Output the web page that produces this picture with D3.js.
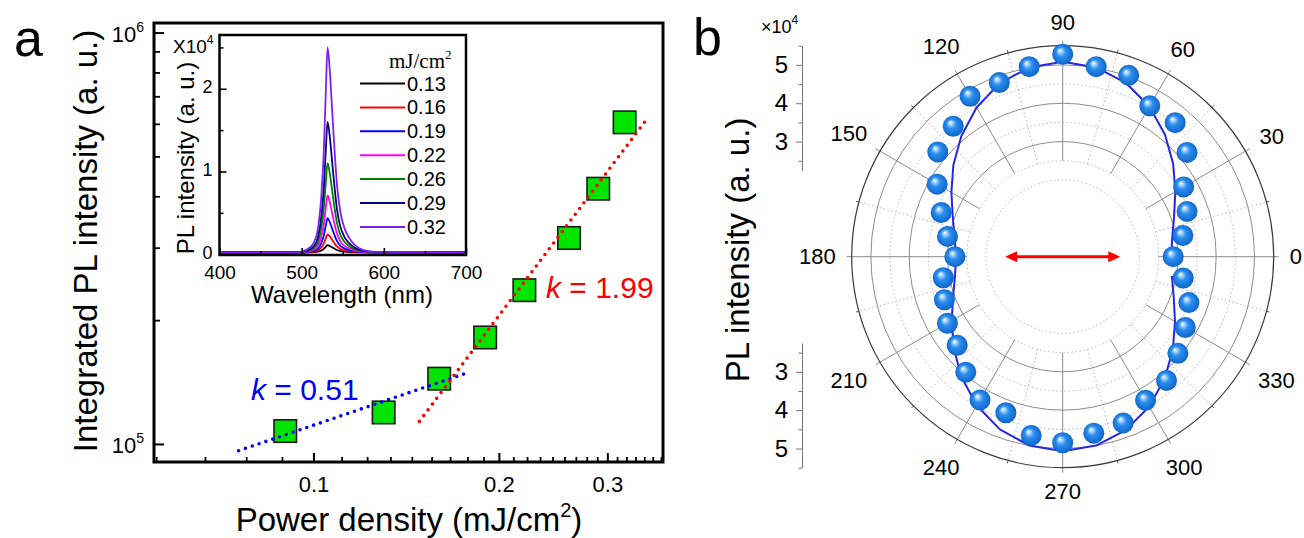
<!DOCTYPE html>
<html>
<head>
<meta charset="utf-8">
<script src="https://cdn.jsdelivr.net/npm/d3@7"></script>
<style>
  html, body { margin: 0; padding: 0; background: #fff; }
  svg { display: block; font-family: "Liberation Sans", Arial, Helvetica, sans-serif; }
</style>
</head>
<body>
<svg id="chart" width="1304" height="538"></svg>
<script>
// ---------- Panel a: integrated PL versus excitation power density ----------
const powerDensity = [0.09, 0.13, 0.16, 0.19, 0.22, 0.26, 0.29, 0.32];      // mJ/cm^2
const integratedPL = [1.075e5, 1.193e5, 1.441e5, 1.815e5, 2.365e5, 3.167e5, 4.173e5, 6.05e5];

// power-law fits  I ~ P^k : slope, x extent, and one point the line passes through
const fitSlopes  = [0.51, 1.99];
const fitColors  = ["#0000ff", "#ff0000"];
const fitXRanges = [[0.0756, 0.1774], [0.1486, 0.3498]];
const fitAnchors = [[0.1158, 1.197e5], [0.228, 2.66e5]];

const xMajorTicks = [0.1, 0.2, 0.3];
const xTickLabels = ["0.1", "0.2", "0.3"];
const yMajorTicks = [1e5, 1e6];
const yTickExponents = ["5", "6"];

// ---------- Inset: PL spectra at each power density ----------
const wavelengthNm = [400, 490, 500, 510, 515, 520, 524, 527, 529.5, 531.5, 534, 537, 540, 543, 547, 552, 558, 565, 575, 590, 700];
const pl013 = [0.02, 0.02, 0.020, 0.022, 0.025, 0.031, 0.045, 0.065, 0.092, 0.110, 0.101, 0.083, 0.065, 0.050, 0.038, 0.031, 0.026, 0.023, 0.021, 0.020, 0.02];
const pl016 = [0.02, 0.02, 0.021, 0.026, 0.031, 0.046, 0.082, 0.130, 0.196, 0.240, 0.218, 0.174, 0.130, 0.093, 0.064, 0.046, 0.035, 0.028, 0.023, 0.021, 0.02];
const pl019 = [0.02, 0.02, 0.022, 0.030, 0.041, 0.070, 0.136, 0.228, 0.352, 0.435, 0.394, 0.311, 0.228, 0.157, 0.103, 0.070, 0.049, 0.035, 0.025, 0.021, 0.02];
const pl022 = [0.02, 0.02, 0.023, 0.037, 0.055, 0.103, 0.213, 0.365, 0.572, 0.710, 0.641, 0.503, 0.365, 0.248, 0.158, 0.103, 0.068, 0.044, 0.028, 0.022, 0.02];
const pl026 = [0.02, 0.02, 0.025, 0.047, 0.074, 0.150, 0.322, 0.560, 0.884, 1.100, 0.992, 0.776, 0.560, 0.376, 0.236, 0.150, 0.096, 0.058, 0.033, 0.023, 0.02];
const pl029 = [0.02, 0.02, 0.028, 0.060, 0.099, 0.210, 0.462, 0.810, 1.284, 1.600, 1.442, 1.126, 0.810, 0.541, 0.336, 0.210, 0.131, 0.075, 0.039, 0.025, 0.02];
const pl032 = [0.02, 0.02, 0.032, 0.082, 0.144, 0.318, 0.714, 1.260, 2.004, 2.500, 2.252, 1.756, 1.260, 0.838, 0.516, 0.318, 0.194, 0.107, 0.050, 0.027, 0.02];
const spectraLabels = ["0.13", "0.16", "0.19", "0.22", "0.26", "0.29", "0.32"];
const spectraColors = ["#000000", "#ff0000", "#0000ff", "#ff00ff", "#008000", "#000080", "#8020f0"];
const insetXTicks = [400, 500, 600, 700];
const insetYTicks = [0, 1, 2];

// ---------- Panel b: polarization-resolved PL (x10^4) ----------
const polarAngleDeg = [0, 10, 20, 30, 40, 50, 60, 70, 80, 90, 100, 110, 120, 130, 140, 150, 160, 170,
                       180, 190, 200, 210, 220, 230, 240, 250, 260, 270, 280, 290, 300, 310, 320, 330, 340, 350];
const polarPL = [2.88, 3.18, 3.45, 3.64, 4.23, 4.56, 4.54, 5.03, 5.03, 5.28, 5.03, 4.83, 4.83, 4.44, 4.25, 3.78, 3.37, 3.05,
                 2.81, 3.16, 3.28, 3.47, 3.59, 3.93, 4.31, 4.33, 4.73, 4.85, 4.67, 4.61, 4.32, 4.21, 3.92, 3.69, 3.50, 3.19];
const polarFit = [2.83, 2.90, 3.09, 3.39, 3.76, 4.15, 4.52, 4.82, 5.01, 5.08, 5.01, 4.81, 4.49, 4.11, 3.72, 3.35, 3.05, 2.86,
                  2.78, 2.85, 3.04, 3.34, 3.71, 4.10, 4.48, 4.79, 5.00, 5.07, 5.00, 4.81, 4.51, 4.14, 3.75, 3.38, 3.08, 2.89];
const angleTickLabels = ["0", "30", "60", "90", "120", "150", "180", "210", "240", "270", "300", "330"];
const radialTicks = [3, 4, 5];
const radialMinorTicks = [2.5, 3.5, 4.5, 5.5];
const polarArrowHalfLength = 1.5;   // polarization direction marker, radial units

const svg = d3.select("#chart");
const defs = svg.append("defs");

// =====================================================================
// Panel a
// =====================================================================
const A = { left: 154, right: 663, top: 23, bottom: 462 };
const xDomain = [0.0551, 0.3694];
const xA = d3.scaleLog().domain(xDomain).range([A.left, A.right]);
const yA = d3.scaleLog().domain([9.04e4, 1.055e6]).range([A.bottom, A.top]);

const gA = svg.append("g");

// minor ticks: eight evenly spaced values between successive 0.1 steps
const xMinor = [];
[0, 0.1, 0.2, 0.3].forEach(b => {
  for (let i = 1; i <= 8; i++) {
    const v = b + i * 0.1 / 9;
    if (v > xDomain[0] && v < xDomain[1]) xMinor.push(v);
  }
});
const yMinor = d3.range(2, 10).map(m => m * 1e5);

function styleAxis(g, color, width) {
  g.select(".domain").remove();
  g.selectAll(".tick line").attr("stroke", color).attr("stroke-width", width);
}

// bottom axis
gA.append("g").attr("transform", `translate(0,${A.bottom})`)
  .call(d3.axisBottom(xA).tickValues(xMinor).tickSize(-5).tickFormat(""))
  .call(g => styleAxis(g, "#000", 1.8));
gA.append("g").attr("transform", `translate(0,${A.bottom})`)
  .call(d3.axisBottom(xA).tickValues(xMajorTicks).tickSize(-9).tickPadding(14)
        .tickFormat((d, i) => xTickLabels[i]))
  .call(g => styleAxis(g, "#000", 2))
  .call(g => g.selectAll("text").attr("fill", "#000").attr("font-size", 22)
        .attr("font-family", "Liberation Sans, Arial, sans-serif"));

// left axis
gA.append("g").attr("transform", `translate(${A.left},0)`)
  .call(d3.axisLeft(yA).tickValues(yMinor).tickSize(-6).tickFormat(""))
  .call(g => styleAxis(g, "#000", 1.8));
gA.append("g").attr("transform", `translate(${A.left},0)`)
  .call(d3.axisLeft(yA).tickValues(yMajorTicks).tickSize(-10).tickFormat(""))
  .call(g => styleAxis(g, "#000", 2));

yMajorTicks.forEach((v, i) => {
  const t = gA.append("text").attr("x", 144).attr("y", yA(v) + 9)
    .attr("text-anchor", "end").attr("font-size", 22).attr("fill", "#000");
  t.append("tspan").text("10");
  t.append("tspan").attr("font-size", 14).attr("dy", -10).text(yTickExponents[i]);
});

// frame
gA.append("rect").attr("x", A.left).attr("y", A.top)
  .attr("width", A.right - A.left).attr("height", A.bottom - A.top)
  .attr("fill", "none").attr("stroke", "#000").attr("stroke-width", 3);

// data squares
const sq = 22.5;
gA.append("g").selectAll("rect").data(powerDensity).join("rect")
  .attr("x", d => xA(d) - sq / 2)
  .attr("y", (d, i) => yA(integratedPL[i]) - sq / 2)
  .attr("width", sq).attr("height", sq)
  .attr("fill", "#00e400").attr("stroke", "#1a1a1a").attr("stroke-width", 1.6);

// dotted power-law fits
const fitLine = d3.line().x(d => xA(d[0])).y(d => yA(d[1]));
fitSlopes.forEach((k, i) => {
  const [x0, y0] = fitAnchors[i];
  const pts = fitXRanges[i].map(x => [x, y0 * Math.pow(x / x0, k)]);
  gA.append("path").attr("d", fitLine(pts))
    .attr("fill", "none").attr("stroke", fitColors[i]).attr("stroke-width", 3.6)
    .attr("stroke-linecap", "round").attr("stroke-dasharray", "0 7.2");
});

function kLabel(x, y, k, color) {
  const t = gA.append("text").attr("x", x).attr("y", y).attr("font-size", 30).attr("fill", color);
  t.append("tspan").attr("font-style", "italic").text("k");
  t.append("tspan").text(" = " + k.toFixed(2));
}
kLabel(251, 400, fitSlopes[0], fitColors[0]);
kLabel(546, 298, fitSlopes[1], fitColors[1]);

// axis titles
{
  const t = gA.append("text").attr("x", 409).attr("y", 531).attr("text-anchor", "middle")
    .attr("font-size", 33).attr("fill", "#000");
  t.append("tspan").text("Power density (mJ/cm");
  t.append("tspan").attr("font-size", 20).attr("dy", -14).text("2");
  t.append("tspan").attr("dy", 14).text(")");
}
gA.append("text").attr("transform", "translate(97,241) rotate(-90)")
  .attr("text-anchor", "middle").attr("font-size", 33).attr("fill", "#000")
  .text("Integrated PL intensity (a. u.)");

svg.append("text").attr("x", 14).attr("y", 56).attr("font-size", 52).attr("fill", "#000").text("a");

// =====================================================================
// Inset
// =====================================================================
const I = { left: 219.5, right: 466, top: 35, bottom: 255 };
const xI = d3.scaleLinear().domain([400, 700]).range([I.left, I.right]);
const yI = d3.scaleLinear().domain([-0.01, 2.65]).range([I.bottom, I.top]);
const gI = svg.append("g");

gI.append("rect").attr("x", I.left).attr("y", I.top)
  .attr("width", I.right - I.left).attr("height", I.bottom - I.top).attr("fill", "#fff");

defs.append("clipPath").attr("id", "insetClip").append("rect")
  .attr("x", I.left).attr("y", I.top).attr("width", I.right - I.left).attr("height", I.bottom - I.top);

const spectra = [pl013, pl016, pl019, pl022, pl026, pl029, pl032];
const specLine = d3.line().x(d => xI(d[0])).y(d => yI(d[1])).curve(d3.curveMonotoneX);
gI.append("g").attr("clip-path", "url(#insetClip)").selectAll("path")
  .data(spectra.map(s => wavelengthNm.map((w, j) => [w, s[j]])))
  .join("path")
  .attr("d", specLine).attr("fill", "none")
  .attr("stroke", (d, i) => spectraColors[i]).attr("stroke-width", 1.8)
  .attr("stroke-linejoin", "round");

// inset axes
gI.append("g").attr("transform", `translate(0,${I.bottom})`)
  .call(d3.axisBottom(xI).tickValues([450, 550, 650]).tickSize(-4).tickFormat(""))
  .call(g => styleAxis(g, "#000", 1.5));
gI.append("g").attr("transform", `translate(0,${I.bottom})`)
  .call(d3.axisBottom(xI).tickValues(insetXTicks).tickSize(-7).tickPadding(11).tickFormat(d3.format("d")))
  .call(g => styleAxis(g, "#000", 1.6))
  .call(g => g.selectAll("text").attr("fill", "#000").attr("font-size", 19)
        .attr("font-family", "Liberation Sans, Arial, sans-serif"));
gI.append("g").attr("transform", `translate(${I.left},0)`)
  .call(d3.axisLeft(yI).tickValues([0.5, 1.5, 2.5]).tickSize(-4).tickFormat(""))
  .call(g => styleAxis(g, "#000", 1.5));
gI.append("g").attr("transform", `translate(${I.left},0)`)
  .call(d3.axisLeft(yI).tickValues(insetYTicks).tickSize(-7).tickPadding(7).tickFormat(d3.format("d")))
  .call(g => styleAxis(g, "#000", 1.6))
  .call(g => g.selectAll("text").attr("fill", "#000").attr("font-size", 18).attr("dy", "0.22em")
        .attr("font-family", "Liberation Sans, Arial, sans-serif"));

gI.append("rect").attr("x", I.left).attr("y", I.top)
  .attr("width", I.right - I.left).attr("height", I.bottom - I.top)
  .attr("fill", "none").attr("stroke", "#000").attr("stroke-width", 2.5);

{
  const t = gI.append("text").attr("x", 173).attr("y", 53).attr("font-size", 19).attr("fill", "#000");
  t.append("tspan").text("X10");
  t.append("tspan").attr("font-size", 12).attr("dy", -9).text("4");
}
gI.append("text").attr("transform", "translate(194,158) rotate(-90)")
  .attr("text-anchor", "middle").attr("font-size", 24).attr("fill", "#000")
  .text("PL intensity (a. u.)");
gI.append("text").attr("x", 342).attr("y", 303).attr("text-anchor", "middle")
  .attr("font-size", 24).attr("fill", "#000").text("Wavelength (nm)");

// legend
{
  const t = gI.append("text").attr("x", 389).attr("y", 68).attr("font-size", 21)
    .attr("font-family", "Liberation Serif, Times New Roman, serif").attr("fill", "#000");
  t.append("tspan").text("mJ/cm");
  t.append("tspan").attr("font-size", 13).attr("dy", -9).text("2");
}
const lg = gI.append("g").selectAll("g").data(spectraLabels).join("g")
  .attr("transform", (d, i) => `translate(0,${83.5 + i * 23.9})`);
lg.append("line").attr("x1", 360).attr("x2", 405).attr("y1", 0).attr("y2", 0)
  .attr("stroke", (d, i) => spectraColors[i]).attr("stroke-width", 2);
lg.append("text").attr("x", 407).attr("y", 0).attr("dy", "0.35em")
  .attr("font-size", 20).attr("fill", "#000").text(d => d);

// =====================================================================
// Panel b: polar plot
// =====================================================================
const cx = 1062.7, cy = 256.7;
const rP = d3.scaleLinear().domain([0, 5.5]).range([0, 211]);
const R = rP(5.5);
const gB = svg.append("g");
const gP = gB.append("g").attr("transform", `translate(${cx},${cy})`);
const rad = deg => deg * Math.PI / 180;

// sphere shading
const grad = defs.append("radialGradient").attr("id", "sphere")
  .attr("cx", "50%").attr("cy", "50%").attr("r", "55%").attr("fx", "36%").attr("fy", "32%");
grad.append("stop").attr("offset", "0%").attr("stop-color", "#ffffff");
grad.append("stop").attr("offset", "16%").attr("stop-color", "#a8d4fb");
grad.append("stop").attr("offset", "42%").attr("stop-color", "#2b8eef");
grad.append("stop").attr("offset", "100%").attr("stop-color", "#0b5fc6");

// grid circles
[2, 2.5, 3.5, 4.5].forEach(v => gP.append("circle").attr("r", rP(v)).attr("fill", "none")
  .attr("stroke", "#b8b8b8").attr("stroke-width", 1).attr("stroke-dasharray", "1.5 2.5"));
[3, 4, 5].forEach(v => gP.append("circle").attr("r", rP(v)).attr("fill", "none")
  .attr("stroke", "#8c8c8c").attr("stroke-width", 1));

// spokes
d3.range(0, 360, 30).forEach(a => {
  gP.append("line")
    .attr("x1", rP(2.5) * Math.cos(rad(a))).attr("y1", -rP(2.5) * Math.sin(rad(a)))
    .attr("x2", (R + 5) * Math.cos(rad(a))).attr("y2", -(R + 5) * Math.sin(rad(a)))
    .attr("stroke", "#8c8c8c").attr("stroke-width", 1);
});
d3.range(15, 360, 30).forEach(a => {
  gP.append("line")
    .attr("x1", rP(2.5) * Math.cos(rad(a))).attr("y1", -rP(2.5) * Math.sin(rad(a)))
    .attr("x2", R * Math.cos(rad(a))).attr("y2", -R * Math.sin(rad(a)))
    .attr("stroke", "#b8b8b8").attr("stroke-width", 1).attr("stroke-dasharray", "1.5 2.5");
  gP.append("line")
    .attr("x1", R * Math.cos(rad(a))).attr("y1", -R * Math.sin(rad(a)))
    .attr("x2", (R + 3) * Math.cos(rad(a))).attr("y2", -(R + 3) * Math.sin(rad(a)))
    .attr("stroke", "#555").attr("stroke-width", 1);
});
gP.append("circle").attr("r", R).attr("fill", "none").attr("stroke", "#3a3a3a").attr("stroke-width", 1.2);

// angle labels
angleTickLabels.forEach((lab, i) => {
  const a = rad(i * 30);
  const fs = 22, hw = lab.length * fs * 0.278, hh = fs * 0.358;
  const r = R + 16 + hw * Math.abs(Math.cos(a)) + hh * Math.abs(Math.sin(a));
  gP.append("text").attr("x", r * Math.cos(a)).attr("y", -r * Math.sin(a)).attr("dy", "0.35em")
    .attr("text-anchor", "middle").attr("font-size", fs).attr("fill", "#000").text(lab);
});

// fitted curve (drawn open from 0 to 350 degrees)
const radial = d3.lineRadial().angle(d => rad(90 - d[0])).radius(d => rP(d[1]));
gP.append("path").attr("d", radial(polarAngleDeg.map((a, i) => [a, polarFit[i]])))
  .attr("fill", "none").attr("stroke", "#2626e8").attr("stroke-width", 2).attr("stroke-linejoin", "round");

// measured points
gP.append("g").selectAll("circle").data(polarAngleDeg).join("circle")
  .attr("cx", (a, i) => rP(polarPL[i]) * Math.cos(rad(a)))
  .attr("cy", (a, i) => -rP(polarPL[i]) * Math.sin(rad(a)))
  .attr("r", 10.5).attr("fill", "url(#sphere)");

// polarization direction arrow
{
  const L = rP(polarArrowHalfLength), head = 12, hwid = 5.5;
  gP.append("line").attr("x1", -L + head - 2).attr("x2", L - head + 2).attr("y1", 0).attr("y2", 0)
    .attr("stroke", "#ff0000").attr("stroke-width", 3);
  gP.append("path").attr("d", `M${-L},0L${-L + head},${-hwid}L${-L + head},${hwid}Z`).attr("fill", "#ff0000");
  gP.append("path").attr("d", `M${L},0L${L - head},${-hwid}L${L - head},${hwid}Z`).attr("fill", "#ff0000");
}

// radial intensity scale, drawn above and below the centre
const axX = 802;
const rTop = d3.scaleLinear().domain([2.25, 5.5]).range([cy - rP(2.25), cy - rP(5.5)]);
const rBot = d3.scaleLinear().domain([2.25, 5.5]).range([cy + rP(2.25), cy + rP(5.5)]);
[rTop, rBot].forEach(sc => {
  gB.append("g").attr("transform", `translate(${axX},0)`)
    .call(d3.axisLeft(sc).tickValues(radialMinorTicks).tickSize(3.5).tickSizeOuter(0).tickFormat(""))
    .call(g => g.select(".domain").attr("stroke", "#777").attr("stroke-width", 1))
    .call(g => g.selectAll(".tick line").attr("stroke", "#777"));
  gB.append("g").attr("transform", `translate(${axX},0)`)
    .call(d3.axisLeft(sc).tickValues(radialTicks).tickSize(6).tickSizeOuter(0).tickPadding(8).tickFormat(d3.format("d")))
    .call(g => g.select(".domain").remove())
    .call(g => g.selectAll(".tick line").attr("stroke", "#777"))
    .call(g => g.selectAll("text").attr("fill", "#000").attr("font-size", 24)
          .attr("font-family", "Liberation Sans, Arial, sans-serif"));
});
{
  const t = gB.append("text").attr("x", 761).attr("y", 33).attr("font-size", 18).attr("fill", "#000");
  t.append("tspan").text("×10");
  t.append("tspan").attr("font-size", 12).attr("dy", -9).text("4");
}
gB.append("text").attr("transform", "translate(749,250) rotate(-90)")
  .attr("text-anchor", "middle").attr("font-size", 33).attr("fill", "#000").text("PL intensity (a. u.)");

svg.append("text").attr("x", 693).attr("y", 55).attr("font-size", 52).attr("fill", "#000").text("b");
</script>
</body>
</html>
